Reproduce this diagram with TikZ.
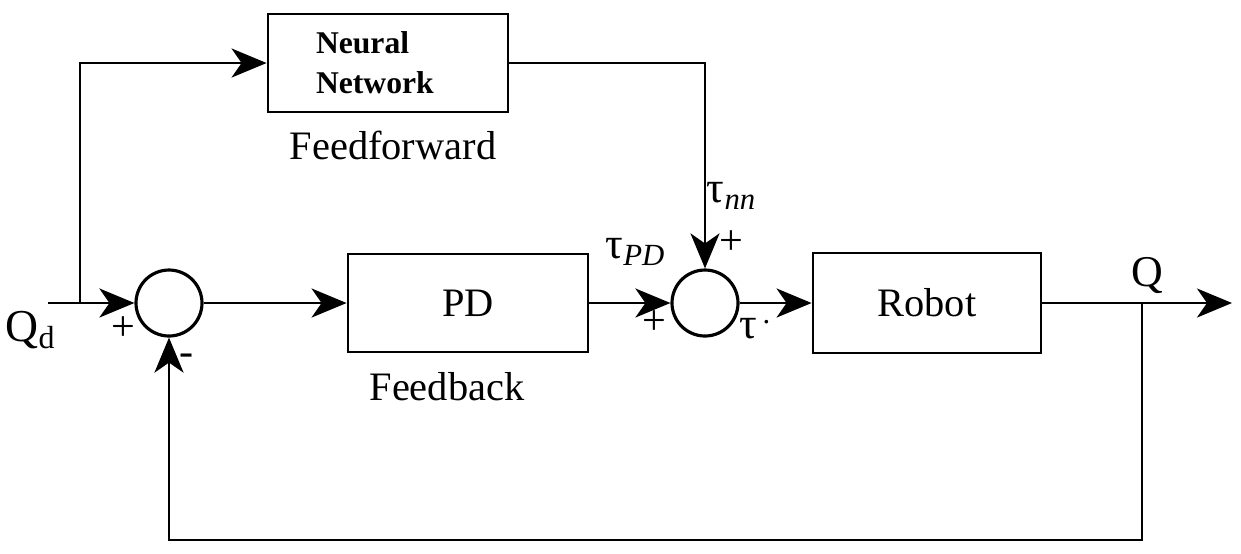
\documentclass[tikz,border=0pt]{standalone}
\usepackage{fontspec}
\setmainfont{Liberation Serif}
\usetikzlibrary{arrows.meta,positioning,calc}

\begin{document}
\begin{tikzpicture}[
  blk/.style={draw,line width=0.8pt,minimum width=2.4cm,minimum height=0.98cm,font=\fontsize{11.5}{13}\selectfont},
  sumpt/.style={draw,circle,line width=0.9pt,minimum size=0.66cm,inner sep=0pt},
  arr/.style={-{Stealth[length=3.5mm,width=2.9mm,inset=1mm]},line width=0.8pt},
  lbl/.style={font=\fontsize{11.5}{13}\selectfont,inner sep=0pt},
  sgn/.style={font=\fontsize{12}{14}\selectfont,inner sep=0pt}]
  \useasboundingbox (0,0) rectangle (12.41,-5.53);
  % blocks and summing points
  \node[blk,text width=1.44cm,align=left,inner xsep=0.48cm,font=\fontsize{9}{11.3}\selectfont\bfseries] (nn) at (3.88,-0.63) {Neural\\Network};
  \node[blk] (pd) at (4.68,-3.03) {PD};
  \node[blk,minimum width=2.28cm,minimum height=1.0cm] (rob) at (9.27,-3.03) {Robot};
  \node[sumpt] (s1) at (1.69,-3.03) {};
  \node[sumpt] (s2) at (7.05,-3.03) {};
  \coordinate (qin) at (0.48,-3.03);
  \coordinate (br) at (0.80,-3.03);
  \coordinate (tap) at (11.42,-3.03);
  \coordinate (bot) at (11.42,-5.40);
  \coordinate (qout) at (12.32,-3.03);
  % labels
  \node[lbl,anchor=base] (ffw) at (3.93,-1.59) {Feedforward};
  \node[lbl,anchor=base] (fbk) at (4.47,-4.00) {Feedback};
  \node[lbl,font=\fontsize{13}{15}\selectfont] (qd) at (0.31,-3.30) {Q\textsubscript{d}};
  \node[lbl,font=\fontsize{12.5}{15}\selectfont] (q) at (11.47,-2.75) {Q};
  \node[lbl,font=\fontsize{12.5}{15}\selectfont] (tnn) at (7.32,-1.96) {τ\textsubscript{\textit{nn}}};
  \node[lbl,font=\fontsize{12.5}{15}\selectfont] (tpd) at (6.36,-2.52) {τ\textsubscript{\textit{PD}}};
  \node[lbl,font=\fontsize{12.5}{15}\selectfont] (tau) at (7.56,-3.29) {τ\textsuperscript{\,.}};
  \node[sgn] (p1) at (1.23,-3.29) {+};
  \node[sgn] (m1) at (1.87,-3.60) {-};
  \node[sgn] (p2) at (7.31,-2.43) {+};
  \node[sgn] (p3) at (6.54,-3.23) {+};
  % signal lines
  \draw[arr] (qin) -- (s1);
  \draw[arr] (br) |- (nn.west);
  \draw[arr] (s1) -- (pd);
  \draw[arr] (pd) -- (s2);
  \draw[arr] (nn.east) -| (s2.north);
  \draw[arr] (s2) -- (rob);
  \draw[arr] (rob) -- (qout);
  \draw[arr] (tap) -- (bot) -| (s1.south);
\end{tikzpicture}
\end{document}
